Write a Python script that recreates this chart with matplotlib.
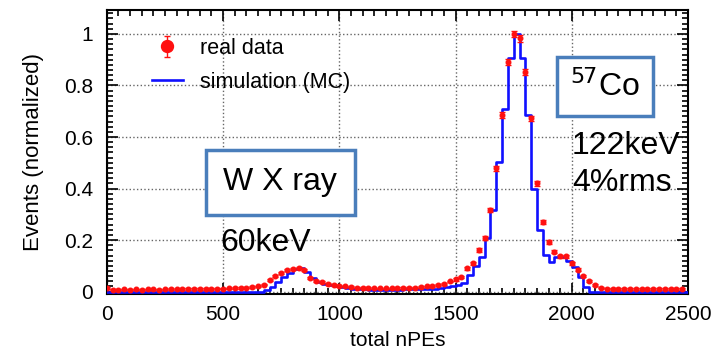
import numpy as np
import matplotlib
matplotlib.use("Agg")
from matplotlib import pyplot as plt
from matplotlib.ticker import MultipleLocator

plt.rcParams['font.family'] = ['Liberation Sans', 'DejaVu Sans']

# bin edges in total nPEs (25 per bin)
npe = list(range(0, 2500, 25))

# real data (normalized), one value per bin
data = [0.015, 0.008, 0.008, 0.009, 0.008, 0.009, 0.008, 0.009, 0.009, 0.008,
        0.009, 0.010, 0.009, 0.010, 0.010, 0.011, 0.010, 0.011, 0.011, 0.012,
        0.012, 0.013, 0.014, 0.015, 0.016, 0.018, 0.020, 0.027, 0.045, 0.061,
        0.074, 0.083, 0.087, 0.090, 0.083, 0.054, 0.041, 0.036, 0.031, 0.027,
        0.023, 0.020, 0.018, 0.016, 0.015, 0.014, 0.013, 0.013, 0.013, 0.013,
        0.014, 0.014, 0.015, 0.016, 0.018, 0.020, 0.022, 0.026, 0.030, 0.040,
        0.048, 0.056, 0.090, 0.110, 0.161, 0.207, 0.317, 0.478, 0.685, 0.892,
        1.000, 0.983, 0.853, 0.672, 0.420, 0.271, 0.193, 0.155, 0.138, 0.138,
        0.110, 0.085, 0.060, 0.040, 0.025, 0.016, 0.012, 0.010, 0.010, 0.010,
        0.010, 0.010, 0.010, 0.010, 0.010, 0.010, 0.010, 0.010, 0.010, 0.010]

data_err = [0.003] * 28 + [0.004] * 13 + [0.003] * 19 + \
           [0.005, 0.005, 0.006, 0.006, 0.007, 0.008] + \
           [0.009, 0.010, 0.011, 0.012, 0.013, 0.013, 0.012, 0.011, 0.010] + \
           [0.008, 0.007, 0.006, 0.006, 0.006, 0.005, 0.005, 0.004, 0.004, 0.003] + \
           [0.003] * 15

# simulation (MC), content of bin starting at each edge
mc = [0.0] * 27 + \
     [0.008, 0.019, 0.038, 0.058, 0.074, 0.088, 0.090, 0.077, 0.051, 0.038,
      0.028, 0.024, 0.020, 0.017, 0.014, 0.012, 0.010, 0.009, 0.008, 0.008,
      0.008, 0.008, 0.008, 0.008, 0.009, 0.009, 0.010, 0.010, 0.011, 0.012,
      0.015, 0.018, 0.020, 0.025, 0.035, 0.064, 0.100, 0.135, 0.207, 0.317,
      0.504, 0.708, 0.906, 1.000, 0.906, 0.685, 0.400, 0.239, 0.142, 0.116,
      0.133, 0.133, 0.120, 0.095, 0.057, 0.019] + [0.0] * 17

fig = plt.figure(figsize=(7.22, 3.56), dpi=100)
ax = fig.add_axes([0.148, 0.175, 0.805, 0.797])

mc_line, = ax.step(npe + [2500], mc + [0.0], where='post', color='#1010ff', lw=1.9,
                   label='simulation (MC)', zorder=3)
data_pts = ax.errorbar(npe, data, yerr=data_err, fmt='o', color='#ff1010', ms=3.3,
                       elinewidth=1, capsize=2, capthick=1, label='real data', zorder=4)

ax.set_xlim(0, 2500)
ax.set_ylim(-0.008, 1.093)
ax.xaxis.set_major_locator(MultipleLocator(500))
ax.xaxis.set_minor_locator(MultipleLocator(50))
ax.yaxis.set_minor_locator(MultipleLocator(0.02))
ax.set_yticks([0, 0.2, 0.4, 0.6, 0.8, 1.0])
ax.set_yticklabels(['0', '0.2', '0.4', '0.6', '0.8', '1'])
ax.tick_params(which='both', direction='in', top=True, right=True, labelsize=15,
               width=1.2)
ax.tick_params(which='major', length=8)
ax.tick_params(which='minor', length=4)
ax.tick_params(axis='x', pad=8)
ax.tick_params(axis='y', pad=10)
ax.grid(True, which='major', ls=':', color='#666666', lw=1)
for s in ax.spines.values():
    s.set_linewidth(1.5)

ax.set_xlabel('total nPEs', fontsize=15, labelpad=5)
ax.set_ylabel('Events (normalized)', fontsize=16, labelpad=14)

ax.legend([data_pts, mc_line], ['real data', 'simulation (MC)'], loc='upper left',
          frameon=False, fontsize=15.5, markerscale=2.6, handlelength=1.4,
          bbox_to_anchor=(0.045, 0.97), handletextpad=0.8, labelspacing=0.6)

box = dict(boxstyle='square,pad=0.55', fc='white', ec='#4a7ebb', lw=2.5)
ax.text(745, 0.425, 'W X ray', fontsize=23, ha='center', va='center',
        bbox=box, zorder=6)
ax.text(490, 0.19, '60keV', fontsize=23, ha='left', va='center', zorder=6)
box2 = dict(boxstyle='square,pad=0.42', fc='white', ec='#4a7ebb', lw=2.5)
ax.text(2142, 0.796, '$^{57}$Co', fontsize=23, ha='center', va='center',
        bbox=box2, zorder=6)
ax.text(2000, 0.565, '122keV', fontsize=23, ha='left', va='center', zorder=6)
ax.text(2000, 0.42, '4%rms', fontsize=23, ha='left', va='center', zorder=6)

fig.savefig('out.png', dpi=100)
